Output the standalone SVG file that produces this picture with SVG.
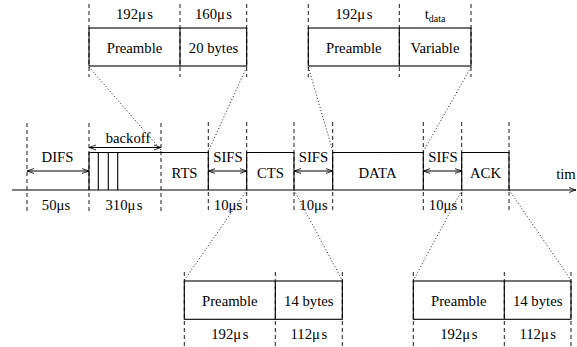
<svg xmlns="http://www.w3.org/2000/svg" width="577" height="347" viewBox="0 0 577 347">
<defs>
<marker id="ah" viewBox="0 0 10 10" refX="10" refY="5" markerWidth="7" markerHeight="7" markerUnits="userSpaceOnUse" orient="auto-start-reverse">
<path d="M0,1.5 L10,5 L0,8.5" fill="none" stroke="#000" stroke-width="1.2"/>
</marker>
<style>
text{font-family:"Liberation Serif","Times New Roman",serif;font-size:14.7px;fill:#000;text-anchor:middle}
.sub{font-size:10px}
.box{fill:none;stroke:#000;stroke-width:1.1}
.dash{stroke:#000;stroke-width:0.9;stroke-dasharray:4 3;fill:none}
.dot{stroke:#000;stroke-width:0.9;stroke-dasharray:1 2.2;fill:none}
.arr{stroke:#000;stroke-width:1;fill:none;marker-start:url(#ah);marker-end:url(#ah)}
.line{stroke:#000;stroke-width:1.1;fill:none}
</style>
</defs>
<rect width="577" height="347" fill="#fff"/>

<g id="connectors">
<line class="dot" x1="89" y1="67" x2="161" y2="150"/>
<line class="dot" x1="246.7" y1="67" x2="208" y2="152"/>
<line class="dot" x1="308.3" y1="67" x2="333" y2="152"/>
<line class="dot" x1="471" y1="67" x2="423" y2="152"/>
<line class="dot" x1="247" y1="190" x2="184.5" y2="280"/>
<line class="dot" x1="294" y1="190" x2="342" y2="280"/>
<line class="dot" x1="462" y1="190" x2="413.5" y2="280"/>
<line class="dot" x1="509" y1="190" x2="571" y2="280"/>
</g>

<g id="timeline">
<line class="line" x1="12" y1="190" x2="576" y2="190" marker-end="url(#ah)"/>
<text x="566" y="179">tim</text>
<g class="dash">
<line x1="27" y1="123" x2="27" y2="212"/>
<line x1="89" y1="123" x2="89" y2="212"/>
<line x1="161" y1="123" x2="161" y2="212"/>
<line x1="208.3" y1="122" x2="208.3" y2="212"/>
<line x1="246.7" y1="122" x2="246.7" y2="212"/>
<line x1="294" y1="122" x2="294" y2="212"/>
<line x1="332.7" y1="122" x2="332.7" y2="212"/>
<line x1="423.3" y1="122" x2="423.3" y2="212"/>
<line x1="461.7" y1="122" x2="461.7" y2="212"/>
<line x1="509" y1="122" x2="509" y2="212"/>
</g>
</g>

<g id="difs">
<line class="arr" x1="27" y1="171" x2="89" y2="171"/>
<text x="57.5" y="162">DIFS</text>
<text x="56" y="210">50μs</text>
</g>

<g id="backoff">
<path class="line" d="M89,190 V152.5 H161"/>
<line class="line" x1="98.3" y1="152.5" x2="98.3" y2="190"/>
<line class="line" x1="108.3" y1="152.5" x2="108.3" y2="190"/>
<line class="line" x1="117.7" y1="152.5" x2="117.7" y2="190"/>
<line class="arr" x1="89" y1="147.5" x2="161" y2="147.5"/>
<text x="128" y="142.5">backoff</text>
<text x="124"  y="210"><tspan>310μ</tspan><tspan dx="1.5">s</tspan></text>
</g>

<g id="rts">
<path class="line" d="M161,152.5 H208.3 V190"/>
<text x="184.5" y="178">RTS</text>
</g>

<g id="sifs1">
<line class="arr" x1="208.3" y1="171" x2="246.7" y2="171"/>
<text x="228" y="162">SIFS</text>
<text x="228" y="210">10μs</text>
</g>

<g id="cts">
<path class="line" d="M246.7,190 V152.5 H294 V190"/>
<text x="270.5" y="178">CTS</text>
</g>

<g id="sifs2">
<line class="arr" x1="294" y1="171" x2="332.7" y2="171"/>
<text x="313.5" y="162">SIFS</text>
<text x="313.5" y="210">10μs</text>
</g>

<g id="data">
<path class="line" d="M332.7,190 V152.5 H423.3 V190"/>
<text x="377.5" y="178">DATA</text>
</g>

<g id="sifs3">
<line class="arr" x1="423.3" y1="171" x2="461.7" y2="171"/>
<text x="443" y="162">SIFS</text>
<text x="443" y="210">10μs</text>
</g>

<g id="ack">
<path class="line" d="M461.7,190 V152.5 H509 V190"/>
<text x="485.5" y="178">ACK</text>
</g>

<g id="rts-frame">
<g class="dash">
<line x1="89" y1="4" x2="89" y2="77"/>
<line x1="180" y1="4" x2="180" y2="77"/>
<line x1="246.7" y1="4" x2="246.7" y2="77"/>
</g>
<rect class="box" x="89" y="28" width="157.7" height="38"/>
<line class="line" x1="180" y1="28" x2="180" y2="66"/>
<text x="134.5" y="19"><tspan>192μ</tspan><tspan dx="1.5">s</tspan></text>
<text x="213.5" y="19"><tspan>160μ</tspan><tspan dx="1.5">s</tspan></text>
<text x="134.5" y="53">Preamble</text>
<text x="213.5" y="53">20 bytes</text>
</g>

<g id="data-frame">
<g class="dash">
<line x1="308.3" y1="4" x2="308.3" y2="77"/>
<line x1="399.3" y1="4" x2="399.3" y2="77"/>
<line x1="471" y1="4" x2="471" y2="77"/>
</g>
<rect class="box" x="308.3" y="28" width="162.7" height="38"/>
<line class="line" x1="399.3" y1="28" x2="399.3" y2="66"/>
<text x="353.8" y="19"><tspan>192μ</tspan><tspan dx="1.5">s</tspan></text>
<text x="435" y="19">t<tspan class="sub" dy="3">data</tspan></text>
<text x="353.8" y="53">Preamble</text>
<text x="435" y="53">Variable</text>
</g>

<g id="cts-frame">
<g class="dash">
<line x1="184.3" y1="272" x2="184.3" y2="347"/>
<line x1="275.3" y1="272" x2="275.3" y2="347"/>
<line x1="342.3" y1="272" x2="342.3" y2="347"/>
</g>
<rect class="box" x="184.3" y="281" width="158" height="38.3"/>
<line class="line" x1="275.3" y1="281" x2="275.3" y2="319.3"/>
<text x="229.8" y="306">Preamble</text>
<text x="308.8" y="306">14 bytes</text>
<text x="229.8" y="339"><tspan>192μ</tspan><tspan dx="1.5">s</tspan></text>
<text x="308.8" y="339"><tspan>112μ</tspan><tspan dx="1.5">s</tspan></text>
</g>

<g id="ack-frame">
<g class="dash">
<line x1="413.3" y1="272" x2="413.3" y2="347"/>
<line x1="504.3" y1="272" x2="504.3" y2="347"/>
<line x1="571" y1="272" x2="571" y2="347"/>
</g>
<rect class="box" x="413.3" y="281" width="157.7" height="38.3"/>
<line class="line" x1="504.3" y1="281" x2="504.3" y2="319.3"/>
<text x="458.8" y="306">Preamble</text>
<text x="537.7" y="306">14 bytes</text>
<text x="458.8" y="339"><tspan>192μ</tspan><tspan dx="1.5">s</tspan></text>
<text x="537.7" y="339"><tspan>112μ</tspan><tspan dx="1.5">s</tspan></text>
</g>
</svg>
